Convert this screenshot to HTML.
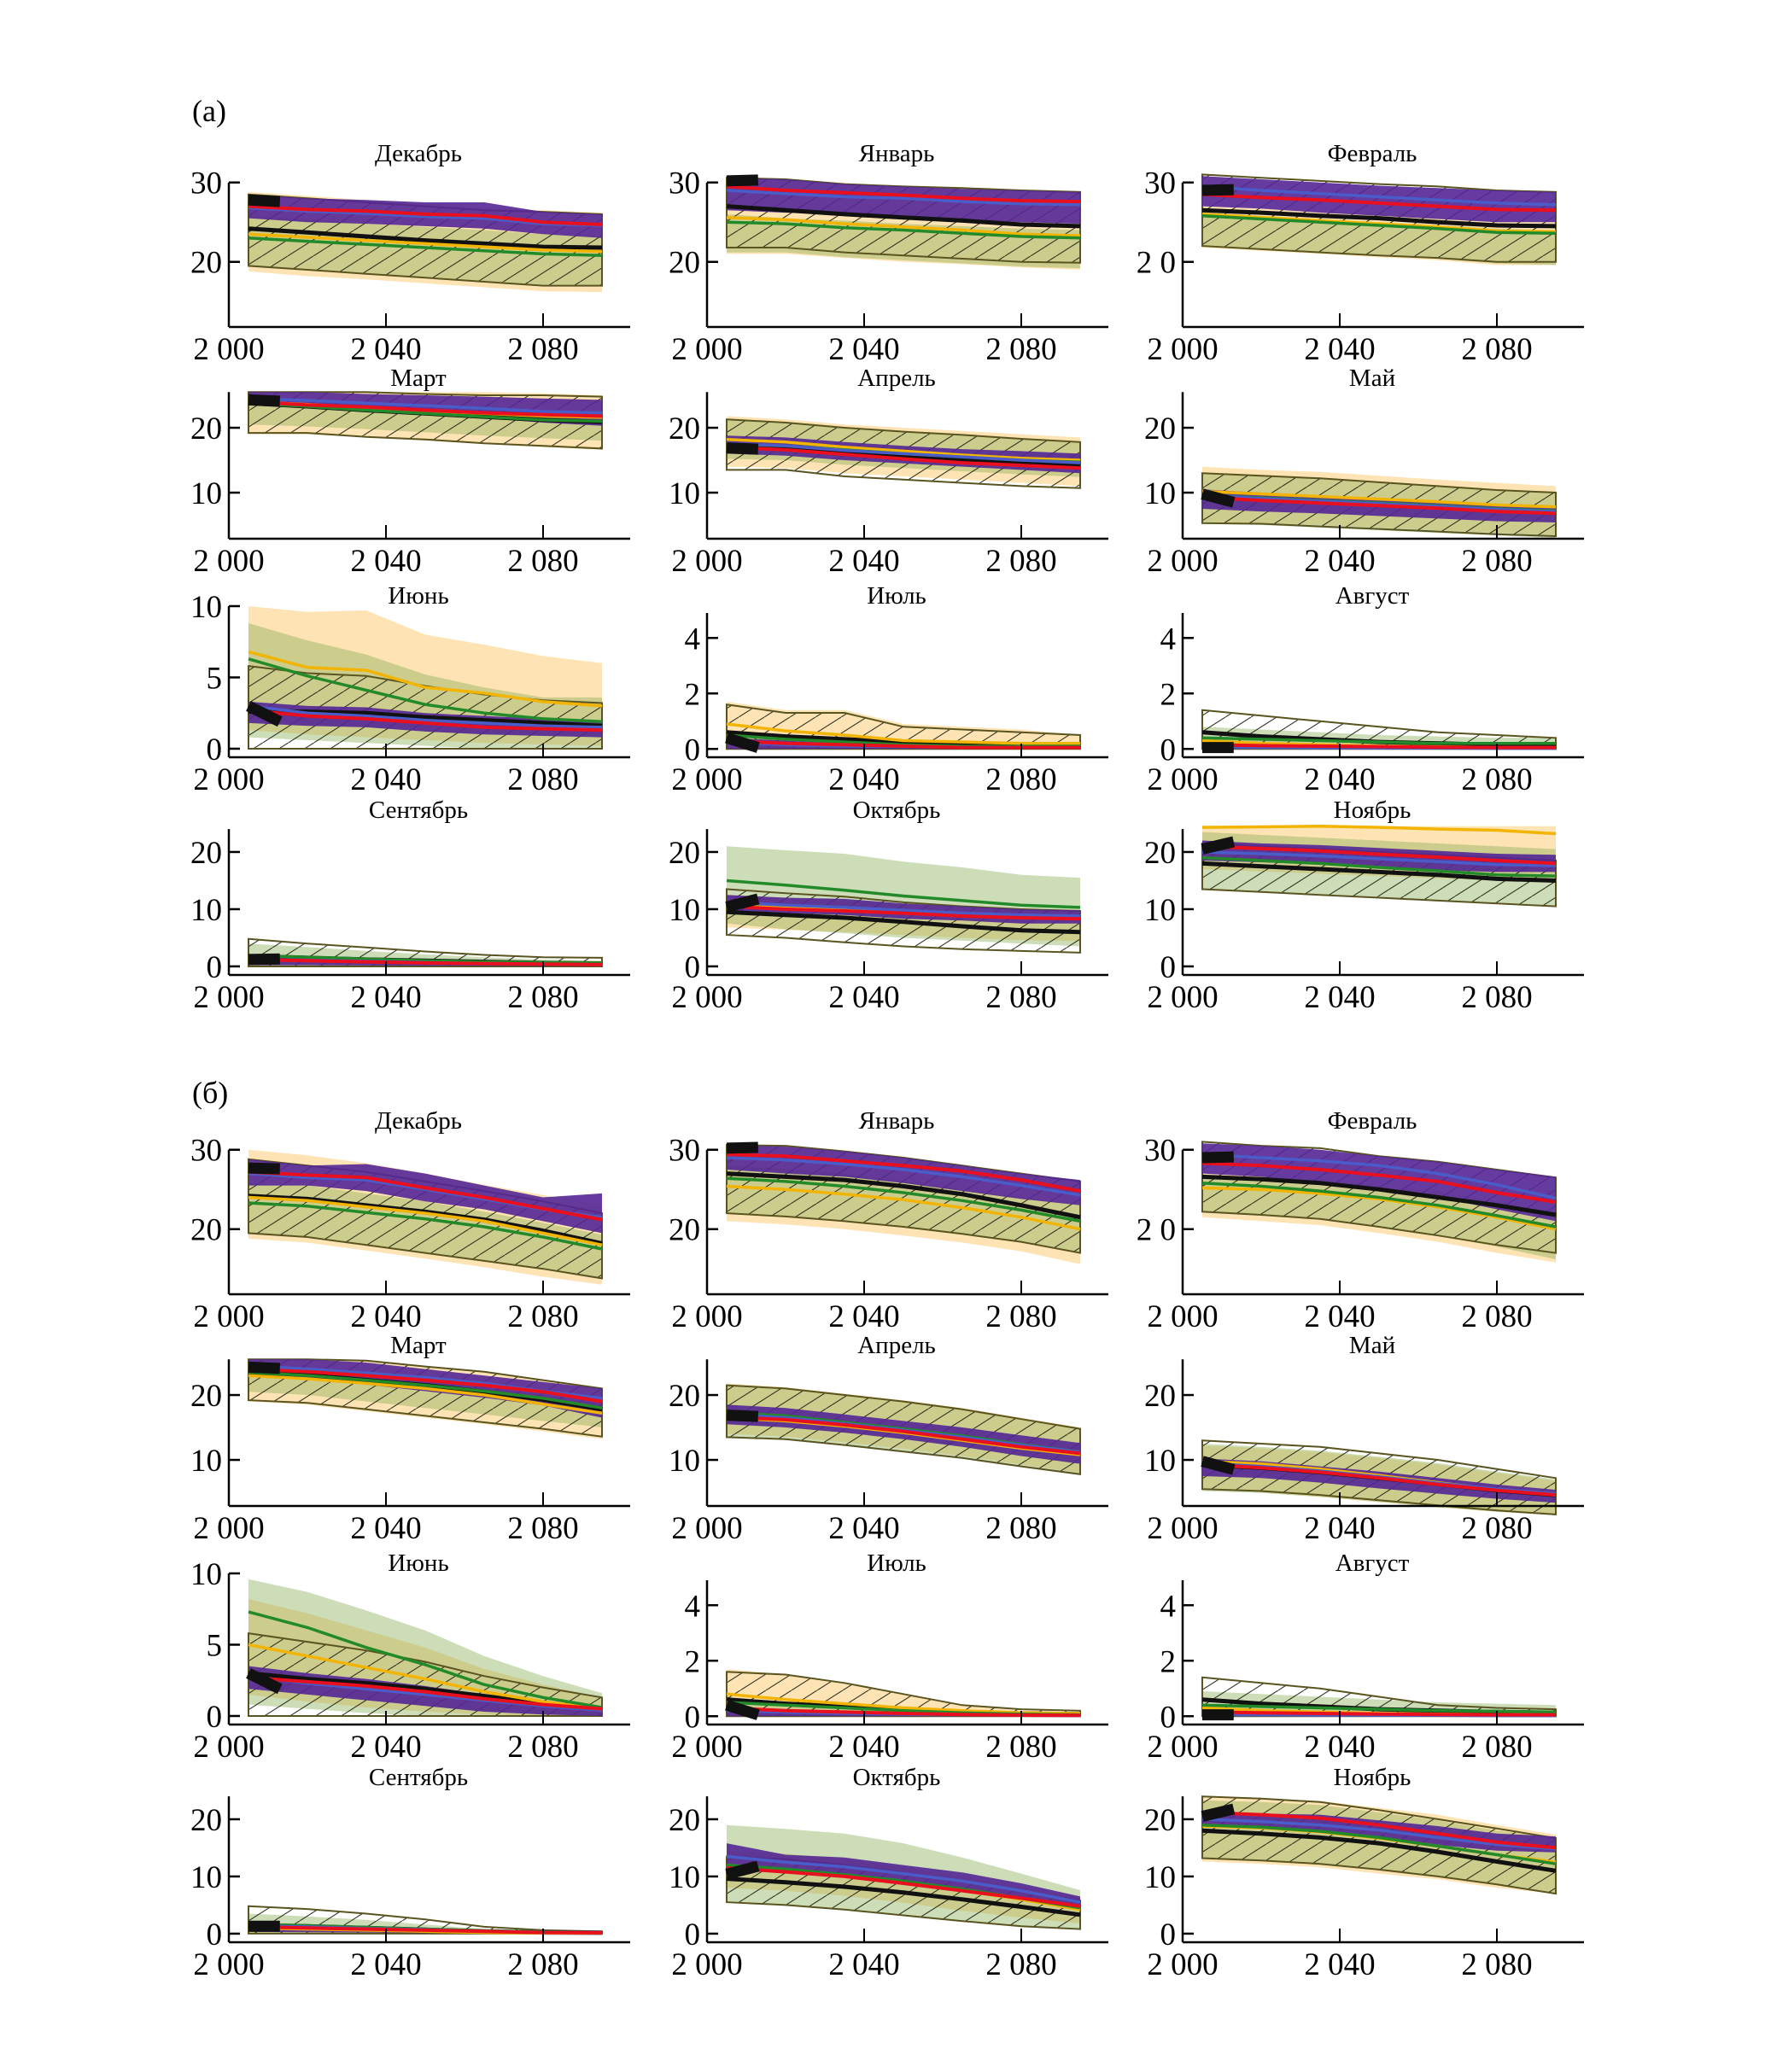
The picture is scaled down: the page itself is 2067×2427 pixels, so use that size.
<!DOCTYPE html>
<html><head><meta charset="utf-8">
<style>
html,body{margin:0;padding:0;background:#fff;}
svg{display:block;}
text{font-family:"Liberation Serif","DejaVu Serif",serif;fill:#000;}
</style></head>
<body>
<svg id="fig" xmlns="http://www.w3.org/2000/svg" width="2067" height="2427" viewBox="0 0 2067 2427">
<defs>
<pattern id="hatch" patternUnits="userSpaceOnUse" width="30" height="30" patternTransform="skewX(-30)">
<line x1="0" y1="30" x2="30" y2="0" stroke="#2a2a1a" stroke-width="1.4"/>
<line x1="-30" y1="30" x2="0" y2="0" stroke="#2a2a1a" stroke-width="1.4"/>
<line x1="30" y1="30" x2="60" y2="0" stroke="#2a2a1a" stroke-width="1.4"/>
</pattern>
</defs>
<text x="225" y="142" font-size="36">(a)</text>
<text x="225" y="1292" font-size="36">(б)</text>
</svg>
<script>
const years=[2005,2020,2035,2050,2065,2080,2095];
const obsYears=[2005,2013];
const months=["Декабрь","Январь","Февраль","Март","Апрель","Май","Июнь","Июль","Август","Сентябрь","Октябрь","Ноябрь"];
const xTickValues=[2040,2080];
const xTickLabels=["2 000","2 040","2 080"];
// panel order: (a) Dec..Nov, then (б) Dec..Nov
const hatchHi=[
[28.5,28,27.5,27,26.5,26.3,26],[30.6,30.4,29.8,29.5,29.3,29,28.8],[31,30.6,30.2,29.8,29.5,29,28.8],
[25.5,25.5,25.5,25.2,25,25,24.8],[21.3,20.8,20,19.4,18.9,18.3,17.8],[13,12.6,12.2,11.6,11,10.4,10],
[5.8,5.3,5.1,4.4,3.8,3.4,3.2],[1.6,1.3,1.3,0.8,0.7,0.6,0.5],[1.4,1.2,1.0,0.8,0.6,0.5,0.4],
[4.8,4,3.3,2.6,2,1.6,1.5],[13.5,12.8,12.2,11.2,10.5,10,9.7],[21.5,21,20.5,20,19.5,19,18.5],
[28.8,28,27.2,26,24.8,23.5,22],[30.6,30.5,29.8,29,28,27,26],[31,30.5,30.2,29.2,28.5,27.5,26.5],
[25.5,25.5,25.3,24.4,23.6,22.3,21],[21.5,21,20,19,17.8,16.3,14.8],[13,12.5,12,11,10,8.6,7.2],
[5.8,5.2,4.6,3.8,2.8,2,1.3],[1.6,1.5,1.2,0.8,0.4,0.25,0.2],[1.4,1.2,1,0.7,0.4,0.3,0.25],
[4.8,4.3,3.5,2.5,1.2,0.6,0.4],[13.5,13,12,10.7,9.2,7.5,5.8],[24,23.6,23,21.6,20,18.4,16.7]];
const hatchLo=[
[19.5,19,18.5,18,17.5,17,17],[21.8,21.8,21.2,20.8,20.4,20,19.9],[22,21.6,21.2,20.8,20.5,20,20],
[19.2,19.2,18.6,18.2,17.6,17.2,16.8],[13.5,13.5,12.5,12,11.5,11,10.7],[5.3,5.2,4.8,4.4,4,3.6,3.3],
[0,0,0,0,0,0,0],[0,0,0,0,0,0,0],[0,0,0,0,0,0,0],
[0,0,0,0,0,0,0],[5.5,5,4.2,3.5,3,2.7,2.4],[13.5,13,12.5,12,11.5,11,10.5],
[19.5,19,18,17,16,15,13.8],[22,21.6,21,20.3,19.4,18.4,17],[22.2,21.8,21.3,20.3,19.2,18,17],
[19.2,18.8,17.8,16.8,15.8,14.8,13.6],[13.5,13.2,12.3,11.3,10.3,9,7.8],[5.5,5.2,4.6,3.8,3,2.2,1.6],
[0,0,0,0,0,0,0],[0,0,0,0,0,0,0],[0,0,0,0,0,0,0],
[0,0,0,0,0,0,0],[5.5,5,4.2,3.2,2.2,1.3,0.8],[13.2,12.8,12.2,11.2,10,8.6,7]];
const orangeHi=[
[28.8,28.3,27.8,27.3,26.8,26.5,26.2],[30.6,30.4,29.8,29.4,29.2,29,28.8],[27,26.7,26.3,26,25.6,25.2,25],
[25.5,25.5,25.5,25.5,25.5,25.3,25],[21.8,21.3,20.5,20,19.5,19,18.5],[14,13.5,13.2,12.6,12,11.5,11],
[10,9.6,9.7,8,7.3,6.5,6],[1.7,1.4,1.4,0.9,0.8,0.7,0.5],[0.35,0.3,0.25,0.2,0.15,0.12,0.1],
[2,1.7,1.4,1.1,0.8,0.6,0.5],[12.5,12,11.6,11,10.5,10,9.8],[24.5,24.5,24.5,24.5,24.5,24.5,24.5],
[30,29.3,28.3,27,25.6,24.3,23],[30.6,30.5,29.8,29,28,27,26],[27,26.7,26.3,25.5,24.8,23.5,22],
[25.5,25.5,25.3,24.4,23.6,22.3,21],[21.8,21.2,20.2,19.2,18,16.5,15],[12.2,11.8,11.2,10.3,9.3,8,6.8],
[8.2,7.2,6,4.8,3.3,2.2,1.3],[1.7,1.5,1.2,0.8,0.4,0.2,0.15],[0.35,0.3,0.25,0.2,0.15,0.12,0.1],
[2,1.7,1.3,0.9,0.5,0.3,0.2],[14.5,14,13,11.7,10,8.2,6.5],[24,23.6,23.2,22,20.8,19,17.3]];
const orangeLo=[
[18.8,18.2,17.8,17.3,16.8,16.3,16.2],[21,21,20.5,20,19.7,19.3,19],[21.8,21.4,21,20.6,20.2,19.6,19.6],
[19,19,18.5,18,17.5,17,16.6],[14,13.8,13,12.5,12,11.5,11],[5.5,5.3,5,4.6,4.2,3.8,3.5],
[1.3,1,0.8,0.6,0.4,0.3,0.2],[0,0,0,0,0,0,0],[0,0,0,0,0,0,0],
[0,0,0,0,0,0,0],[6.8,6.4,6,5.5,5,4.6,4.4],[17,16.6,16.2,15.8,15.4,15,14.8],
[18.8,18.3,17.3,16.3,15.2,14,13],[21,20.6,20,19.2,18.3,17.2,15.6],[21.5,21,20.5,19.5,18.4,17,15.8],
[19,18.5,17.5,16.5,15.5,14.4,13.2],[14,13.6,12.7,11.7,10.6,9.3,8],[5.5,5,4.3,3.5,2.7,2,1.5],
[1.5,1,0.6,0.3,0.1,0,0],[0,0,0,0,0,0,0],[0,0,0,0,0,0,0],
[0,0,0,0,0,0,0],[8,7.5,6.6,5.4,4,2.8,1.8],[12.6,12.2,11.6,10.5,9.5,8,7]];
const greenHi=[
[25.8,25.3,24.8,24.4,24,23.5,23.2],[26,25.5,25.2,24.8,24.5,24.2,24],[26.2,25.8,25.4,25,24.6,24.2,24],
[24.2,23.8,23.2,22.7,22.3,21.9,21.5],[21.3,20.8,20,19.4,18.9,18.3,17.8],[13,12.6,12.2,11.6,11,10.4,10],
[8.8,7.6,6.6,5.2,4.3,3.6,3.6],[0.6,0.5,0.3,0.2,0.15,0.1,0.1],[0.8,0.7,0.6,0.5,0.45,0.4,0.4],
[4,3.4,2.7,2.1,1.6,1.2,1],[21,20.3,19.7,18.3,17.3,16,15.5],[23.5,23,22.5,22,21.5,21,20.5],
[25.8,25.5,24.5,23.5,22.2,20.8,19.3],[28,27.6,27,26,25,24,23],[26.4,26,25.5,24.8,24,22.7,21],
[24,23.5,22.8,22,21.2,20,18.7],[21.5,21,20,19,17.8,16.3,14.8],[12.5,12,11.4,10.5,9.5,8.2,7],
[9.6,8.7,7.4,6,4.2,2.8,1.6],[0.7,0.5,0.35,0.25,0.15,0.1,0.1],[0.9,0.8,0.7,0.6,0.5,0.45,0.4],
[3.5,3,2.4,1.6,0.8,0.4,0.3],[19,18.3,17.5,15.8,13.3,10.5,7.6],[23.3,23,22.5,21.2,19.8,18,16.8]];
const greenLo=[
[19.5,19,18.5,18,17.5,17,17],[21.2,21.2,20.6,20.2,19.8,19.4,19.2],[22,21.6,21.2,20.8,20.4,19.8,19.6],
[20.5,20.2,19.8,19.3,18.8,18.4,18],[15.2,15,14.3,13.8,13.3,12.8,12.4],[5.2,5,4.6,4.2,3.8,3.4,3],
[0.8,0.6,0.4,0.2,0,0,0],[0,0,0,0,0,0,0],[0,0,0,0,0,0,0],
[0,0,0,0,0,0,0],[7.5,6.5,5.8,5,4.5,4,3.5],[13.5,13,12.5,12,11.5,11,10.5],
[19.5,19,18,17,16,15,13.8],[22,21.6,21,20.2,19.3,18.3,17],[22.2,21.8,21.3,20.3,19.2,17.8,16.2],
[20.5,20,19,18,17,16,15],[13.5,13.2,12.3,11.3,10.3,9,7.8],[5.2,4.9,4.3,3.5,2.7,2,1.5],
[0.8,0.5,0.2,0,0,0,0],[0,0,0,0,0,0,0],[0,0,0,0,0,0,0],
[0,0,0,0,0,0,0],[5.5,5,4.2,3.2,2.2,1.3,0.8],[13.3,12.9,12.3,11.3,10.1,8.7,7]];
const purpleHi=[
[28.5,28,27.8,27.5,27.5,26.3,26],[30.6,30.4,29.8,29.5,29.2,29,28.8],[30.8,30.4,30,29.6,29.3,29,28.8],
[25.5,25.5,25.2,25,24.8,24.5,24.3],[18.8,18.5,17.8,17.2,16.7,16.4,16],[10.5,10,9.6,9.2,8.8,8.3,8],
[3.3,3,2.9,2.5,2.3,2.1,1.9],[0.4,0.3,0.2,0.15,0.1,0.1,0.1],[0.12,0.1,0.1,0.08,0.06,0.05,0.05],
[1.6,1.3,1,0.8,0.6,0.5,0.4],[12.5,12,11.8,11,10.5,10,9.8],[22,21.5,21.2,20.7,20.2,19.7,19.5],
[28.8,28,28.2,27,25.5,24,24.5],[30.6,30.4,29.8,29,28,27,26.2],[30.8,30.5,30,29.2,28.5,27.5,26.6],
[25.5,25.5,25,24,23,22,21],[18.5,18,17,16,15,13.8,12.6],[10.2,9.8,9,8.2,7.2,6.2,5.4],
[3.5,3,2.6,2.1,1.5,1,0.6],[0.35,0.25,0.2,0.12,0.08,0.05,0.05],[0.15,0.12,0.1,0.08,0.06,0.05,0.05],
[1.8,1.5,1.2,0.8,0.5,0.3,0.2],[15.8,13.8,13.3,12,10.7,8.8,6.5],[21.5,21,20.8,19.8,18.8,17.5,17]];
const purpleLo=[
[25.5,25,24.8,24.5,24.2,23.5,23],[26.5,26.2,26,25.6,25.3,25,24.8],[27,26.7,26.2,25.8,25.4,25,25],
[23.5,23,22.5,22,21.5,20.8,20.3],[16,15.7,15,14.5,14,13.5,13],[7.5,7.1,6.8,6.4,6,5.6,5.4],
[1.8,1.6,1.5,1.2,1,0.9,0.8],[0,0,0,0,0,0,0],[0,0,0,0,0,0,0],
[0.2,0.2,0.15,0.1,0.1,0.05,0.05],[9.8,9.3,9,8.3,8,7.5,7.5],[18.5,18.2,17.8,17.3,16.8,16.5,16.5],
[25.5,25.5,24.8,23.5,22.5,21,19.5],[27.5,27,26.6,25.8,24.8,23.8,23],[27,26.6,25.8,25,24,22.5,21],
[23,22.6,21.6,20.6,19.6,18.4,16.5],[15.5,15,14.2,13.2,12,10.6,9.4],[7.5,7.2,6.5,5.6,4.8,4,3.4],
[1.9,1.5,1.1,0.7,0.3,0.1,0],[0,0,0,0,0,0,0],[0,0,0,0,0,0,0],
[0.3,0.25,0.2,0.1,0.05,0,0],[11.5,11,10,8.8,7.5,6,4.5],[18.8,18.4,17.8,16.8,15.5,14.5,14.2]];
const blackLine=[
[24.2,23.7,23.2,22.7,22.3,21.9,21.8],[27,26.5,26,25.6,25.2,24.7,24.5],[26.5,26.2,25.8,25.5,25,24.6,24.5],
[23.8,23.3,22.7,22.2,21.7,21.2,20.9],[17.3,16.9,16.2,15.6,15.1,14.6,14.3],[9.5,9,8.6,8.2,7.8,7.3,7],
[2.6,2.6,2.5,2.2,2,1.8,1.6],[0.6,0.45,0.35,0.25,0.15,0.1,0.1],[0.6,0.45,0.35,0.25,0.2,0.15,0.15],
[1.8,1.5,1.2,1,0.8,0.6,0.5],[9.5,9,8.5,7.8,7,6.3,6],[18,17.5,17,16.5,16,15.3,15],
[24.2,23.8,23,22.2,21.2,19.8,18.2],[27,26.6,26.2,25.4,24.4,23,21.5],[26.6,26.3,25.8,25,24,23,21.8],
[23.5,23.1,22.3,21.5,20.5,19.3,17.8],[17,16.5,15.6,14.6,13.5,12.2,11],[9.2,8.8,8.1,7.2,6.3,5.3,4.6],
[3,2.6,2.3,1.9,1.4,0.9,0.5],[0.6,0.45,0.35,0.25,0.15,0.1,0.08],[0.6,0.45,0.35,0.25,0.2,0.15,0.12],
[1.5,1.3,1,0.7,0.4,0.2,0.15],[9.6,9,8.2,7.2,6,4.7,3.3],[18,17.5,16.8,15.8,14.3,12.6,11]];
const orangeLine=[
[23.5,23.1,22.7,22.3,21.9,21.5,21.3],[25.6,25.3,24.8,24.4,24,23.5,23.3],[26,25.6,25.2,24.8,24.4,23.9,23.8],
[24,23.6,23,22.6,22.2,21.8,21.6],[18.2,17.8,17,16.4,15.8,15.3,15],[10.2,9.8,9.4,9,8.6,8.1,7.8],
[6.8,5.7,5.5,4.3,3.9,3.3,3],[0.9,0.65,0.5,0.3,0.25,0.2,0.2],[0.3,0.2,0.15,0.1,0.08,0.05,0.05],
[1.2,1,0.8,0.6,0.5,0.4,0.3],[11,10.5,10,9.3,8.8,8.5,8.5],[24.3,24.4,24.5,24.3,24,23.8,23.2],
[24,23.6,22.8,22,21,19.5,18],[25.4,25,24.4,23.7,22.7,21.5,20],[25.2,25,24.5,23.8,22.8,21.5,20],
[23,22.5,21.8,21,20,18.6,17.2],[16.5,16,15.2,14.2,13,11.8,10.8],[9.8,9.4,8.6,7.6,6.5,5.4,4.6],
[5,4.2,3.4,2.6,1.7,1,0.5],[0.8,0.6,0.45,0.3,0.2,0.12,0.1],[0.3,0.2,0.15,0.1,0.08,0.06,0.05],
[1,0.8,0.6,0.4,0.2,0.1,0.1],[11.5,11,10,8.8,7.5,6,4.2],[18.8,18.5,17.8,16.7,15.3,13.8,12.5]];
const greenLine=[
[23,22.6,22.2,21.8,21.4,21,20.8],[25,24.8,24.3,24,23.6,23.2,23],[25.8,25.4,25,24.6,24.2,23.7,23.6],
[23.8,23.3,22.7,22.2,21.7,21.2,21],[17.5,17.2,16.6,16,15.5,15,14.7],[9.6,9.2,8.8,8.4,8,7.5,7.2],
[6.3,5.1,4.1,3.1,2.5,2.1,1.9],[0.5,0.35,0.25,0.15,0.1,0.1,0.1],[0.4,0.35,0.3,0.25,0.2,0.2,0.2],
[1.9,1.6,1.3,1,0.8,0.7,0.6],[15,14.2,13.3,12.3,11.5,10.7,10.3],[19,18.5,18,17.3,16.7,16,15.8],
[23.3,22.9,22.1,21.3,20.3,19,17.5],[26.4,26,25.4,24.6,23.6,22.4,21],[25.8,25.4,24.8,24,23,21.7,20.3],
[23.5,23,22.3,21.5,20.6,19.5,18],[17.3,16.8,15.8,14.8,13.7,12.4,11.2],[9.2,8.8,8.1,7.2,6.3,5.4,4.8],
[7.3,6.2,4.8,3.6,2.2,1.3,0.6],[0.5,0.4,0.3,0.2,0.12,0.08,0.05],[0.4,0.35,0.3,0.25,0.2,0.18,0.15],
[1.7,1.4,1.1,0.8,0.5,0.3,0.2],[12,11.3,10.3,9.2,7.8,6.2,4.5],[19,18.6,17.9,16.8,15.3,13.8,12.2]];
const redLine=[
[27,26.6,26.4,26,25.8,25,24.7],[29.5,29,28.7,28.4,28,27.7,27.6],[28.5,28.1,27.8,27.4,27,26.6,26.5],
[24,23.5,23.2,22.7,22.3,22,21.8],[17,16.6,15.9,15.2,14.6,14.2,13.8],[9.3,8.8,8.4,8,7.6,7.1,6.8],
[2.7,2.3,2.1,1.8,1.5,1.4,1.3],[0.3,0.2,0.15,0.1,0.05,0.05,0.05],[0.15,0.12,0.1,0.08,0.06,0.05,0.05],
[1.2,1,0.8,0.6,0.5,0.4,0.3],[10.5,10,9.7,9.3,8.8,8.5,8.3],[21,20.6,20.2,19.6,19.1,18.5,18],
[27.2,26.8,26.5,25.2,24,22.6,21.2],[29.4,29.2,28.6,28,27.3,26.2,24.8],[28.3,28,27.5,26.8,26,24.6,23.4],
[24,23.6,23,22.3,21.5,20.5,19],[16.6,16.2,15.4,14.4,13.2,12,11],[9.3,8.8,8.1,7.2,6.2,5.3,4.6],
[2.7,2.4,2.1,1.7,1.2,0.8,0.5],[0.3,0.2,0.15,0.1,0.06,0.04,0.03],[0.15,0.12,0.1,0.08,0.06,0.05,0.05],
[1.2,1,0.8,0.6,0.4,0.2,0.15],[11.5,10.8,10,8.8,7.5,6.2,4.8],[21.2,20.8,20.2,19,17.5,16,15]];
const blueLine=[
[26.8,26.4,26.1,25.7,25.5,24.8,24.6],[29,28.6,28.2,28,27.6,27.3,27.2],[29.5,29,28.6,28.2,27.8,27.4,27.2],
[24.5,24.2,23.8,23.4,23,22.5,22.3],[17.6,17.2,16.5,16,15.5,15,14.6],[9.6,9.1,8.7,8.3,7.9,7.4,7.1],
[3,2.5,2.3,2,1.8,1.6,1.5],[0.25,0.15,0.1,0.08,0.05,0.05,0.05],[0.05,0.05,0.04,0.03,0.03,0.02,0.02],
[1.3,1.1,0.9,0.7,0.5,0.4,0.3],[11.2,10.7,10.3,9.8,9.3,9,8.8],[20,19.7,19.3,18.8,18.3,17.8,17.6],
[27,26.5,26.2,25,23.8,22.5,21.5],[29,28.7,28.2,27.5,26.6,25.5,24.3],[29.4,29,28.6,28,27,25.6,23.9],
[24.5,24,23.4,22.7,21.8,20.6,19.5],[17,16.5,15.6,14.6,13.5,12.3,11.2],[9.5,9,8.3,7.4,6.4,5.5,4.8],
[2.8,2.3,1.9,1.5,1.1,0.7,0.4],[0.2,0.15,0.1,0.07,0.05,0.03,0.02],[0.05,0.05,0.04,0.03,0.03,0.02,0.02],
[1.4,1.2,0.9,0.7,0.4,0.25,0.2],[13.5,12.5,11.7,10.5,9.2,7.5,5.5],[20,19.6,19,18.1,16.8,15.6,14.8]];
const obsLine=[
[27.8,27.6],[30.2,30.3],[29,29.1],[24.3,24.1],[16.9,16.7],[9.8,8.5],[3,1.9],[0.4,0.05],[0.05,0.05],[1.2,1.3],[10.4,11.8],[20.5,21.8],
[27.7,27.6],[30.2,30.3],[29,29.1],[24.3,24.1],[16.9,16.7],[9.8,8.5],[3,1.9],[0.4,0.05],[0.05,0.05],[1.3,1.3],[10.4,11.8],[20.5,21.8]];
const yTicksRow1=[20,30], yTicksRow2=[10,20], yTicksJun=[0,5,10], yTicksSummer=[0,2,4], yTicksRow4=[0,10,20];

const NS="http://www.w3.org/2000/svg";
const svg=document.getElementById('fig');
function mk(tag,attrs,parent){const e=document.createElementNS(NS,tag);for(const k in attrs)e.setAttribute(k,attrs[k]);(parent||svg).appendChild(e);return e;}
const colX=[268,828,1385];
const rowBottomA=[383,631,887,1142];
const titleOffset=[194,179,180,184];
const PX_PER_YEAR=4.6;
function rowScale(row,col){
  if(row===0) return {ppu:9.3,vmin:11.8,vtop:30,ticks:yTicksRow1};
  if(row===1) return {ppu:7.6,vmin:2.9,vtop:25.5,ticks:yTicksRow2};
  if(row===2) return col===0?{ppu:16.7,vmin:-0.6,vtop:10,ticks:yTicksJun}:{ppu:32.5,vmin:-0.3,vtop:4.9,ticks:yTicksSummer};
  return {ppu:6.7,vmin:-1.5,vtop:24,ticks:yTicksRow4};
}
function pathLine(xs,ys,X,Y){return xs.map((v,i)=>(i?'L':'M')+X(v).toFixed(1)+','+Y(ys[i]).toFixed(1)).join(' ');}
function pathBand(xs,lo,hi,X,Y){
  let d=xs.map((v,i)=>(i?'L':'M')+X(v).toFixed(1)+','+Y(hi[i]).toFixed(1)).join(' ');
  for(let i=xs.length-1;i>=0;i--)d+=' L'+X(xs[i]).toFixed(1)+','+Y(lo[i]).toFixed(1);
  return d+' Z';
}
for(let p=0;p<24;p++){
  const part=Math.floor(p/12), m=p%12, row=Math.floor(m/3), col=m%3;
  const x0=colX[col], bottom=rowBottomA[row]+part*1133;
  const s=rowScale(row,col);
  const X=v=>x0+(v-2000)*PX_PER_YEAR;
  const Y=v=>bottom-(v-s.vmin)*s.ppu;
  const g=mk('g',{});
  
  
  const t=mk('text',{x:x0+222,y:bottom-titleOffset[row],'font-size':29,'text-anchor':'middle'},g);
  t.textContent=months[m];
  
  
  const ob=mk('path',{d:pathBand(years,orangeLo[p],orangeHi[p],X,Y),fill:'rgb(253,214,140)','fill-opacity':0.65,stroke:'none'},g);
  
  
  const gb=mk('path',{d:pathBand(years,greenLo[p],greenHi[p],X,Y),fill:'rgb(135,175,85)','fill-opacity':0.42,stroke:'none'},g);
  
  
  const hb=mk('path',{d:pathBand(years,hatchLo[p],hatchHi[p],X,Y),fill:'url(#hatch)',stroke:'#5a5420','stroke-width':2},g);
  
  
  const pb=mk('path',{d:pathBand(years,purpleLo[p],purpleHi[p],X,Y),fill:'rgb(84,38,150)','fill-opacity':0.9,stroke:'none'},g);
  
  
  const lines=[[blackLine,'#111',5,'black-line'],[orangeLine,'#f2b400',3.5,'orange-line'],[greenLine,'#238a2a',3.5,'green-line'],[blueLine,'#4a5cc8',3.5,'blue-line'],[redLine,'#e8101e',4,'red-line']];
  for(const L of lines){
    const e=mk('path',{d:pathLine(years,L[0][p],X,Y),fill:'none',stroke:L[1],'stroke-width':L[2],'stroke-linejoin':'round'},g);
    
    
  }
  const o=mk('path',{d:pathLine(obsYears,obsLine[p],X,Y),fill:'none',stroke:'#111','stroke-width':13,'stroke-linecap':'butt'},g);
  
  
  const yTopPx=Y(s.vtop);
  const ya=mk('line',{x1:x0,y1:yTopPx,x2:x0,y2:bottom,stroke:'#000','stroke-width':2.5},g);
  
  
  const xa=mk('line',{x1:x0,y1:bottom,x2:x0+470,y2:bottom,stroke:'#000','stroke-width':2.5},g);
  
  
  for(const tv of s.ticks){
    const ty=Y(tv);
    const tk=mk('line',{x1:x0,y1:ty,x2:x0+13,y2:ty,stroke:'#000','stroke-width':2.5},g);
    
    
    const lb=mk('text',{x:x0-8,y:ty+13,'font-size':37,'text-anchor':'end'},g);
    lb.textContent=(col===2&&row===0&&tv===20)?'2 0':String(tv);
    
    
  }
  for(const xv of xTickValues){
    const tk=mk('line',{x1:X(xv),y1:bottom,x2:X(xv),y2:bottom-16,stroke:'#000','stroke-width':2},g);
    
    
  }
  [2000,2040,2080].forEach((xv,i)=>{
    const lb=mk('text',{x:X(xv),y:bottom+38,'font-size':37,'text-anchor':'middle'},g);
    lb.textContent=xTickLabels[i];
    
    
  });
}
</script>
</body></html>
